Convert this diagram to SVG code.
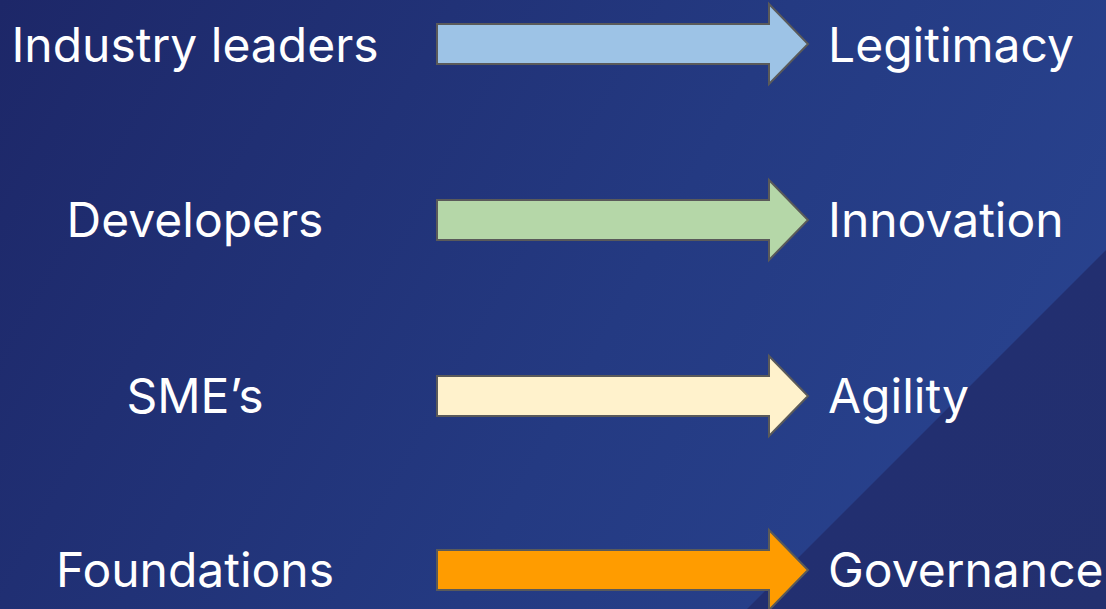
<svg xmlns="http://www.w3.org/2000/svg" width="1106" height="609" viewBox="0 0 1106 609">
  <defs>
    <linearGradient id="bg" x1="0" y1="0" x2="1106" y2="609" gradientUnits="userSpaceOnUse">
      <stop offset="0" stop-color="#1d2768"/>
      <stop offset="0.55" stop-color="#243a82"/>
      <stop offset="1" stop-color="#2a4592"/>
    </linearGradient>
    <linearGradient id="tri" x1="1106" y1="609" x2="930" y2="430" gradientUnits="userSpaceOnUse">
      <stop offset="0" stop-color="#23306f"/>
      <stop offset="1" stop-color="#222f70"/>
    </linearGradient>
    <style>
      .lbl { font-family: Inter, "Noto Sans", "Liberation Sans", sans-serif; font-size: 48px; fill: #ffffff; }
      .l { text-anchor: middle; }
      .arrow { stroke: #5a5a5a; stroke-width: 2; stroke-linejoin: miter; }
    </style>
  </defs>
  <rect width="1106" height="609" fill="url(#bg)"/>
  <polygon points="1106,250 1106,609 747,609" fill="url(#tri)"/>

  <g id="connectors">
    <polygon class="arrow" fill="#9dc3e6" points="437,24 769,24 769,4 808,44 769,84 769,64 437,64"/>
    <polygon class="arrow" fill="#b5d7a8" points="437,200 769,200 769,180 808,220 769,260 769,240 437,240"/>
    <polygon class="arrow" fill="#fff2cc" points="437,376 769,376 769,356 808,396 769,436 769,416 437,416"/>
    <polygon class="arrow" fill="#ff9c00" points="437,550 769,550 769,530 808,570 769,610 769,590 437,590"/>
  </g>

  <g id="industry-leaders"><text class="lbl l" x="195" y="62">Industry leaders</text></g>
  <g id="developers"><text class="lbl l" x="195" y="237">Developers</text></g>
  <g id="smes"><text class="lbl l" x="195" y="413">SME’s</text></g>
  <g id="foundations"><text class="lbl l" x="195" y="587">Foundations</text></g>

  <g id="legitimacy"><text class="lbl" x="828" y="62">Legitimacy</text></g>
  <g id="innovation"><text class="lbl" x="828" y="237">Innovation</text></g>
  <g id="agility"><text class="lbl" x="828" y="413">Agility</text></g>
  <g id="governance"><text class="lbl" x="828" y="587">Governance</text></g>
</svg>
